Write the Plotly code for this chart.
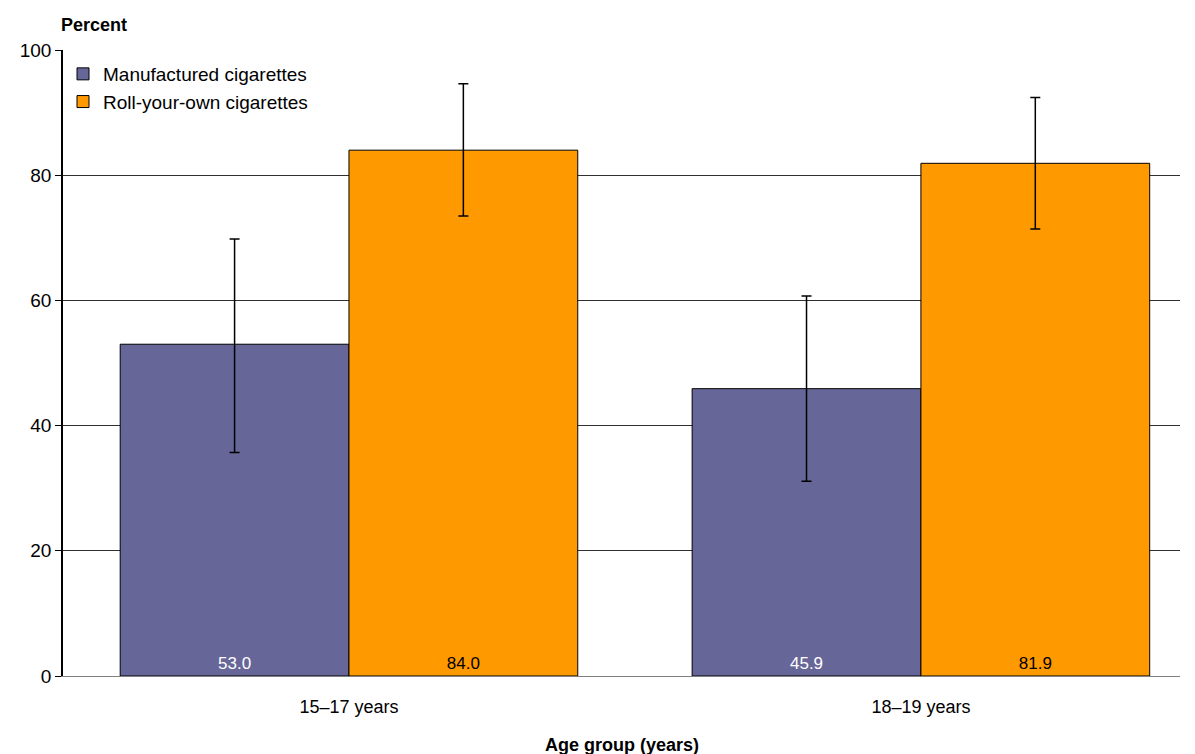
import plotly.graph_objects as go

categories = ["15–17 years", "18–19 years"]
manufactured = [53.0, 45.9]
manufactured_hi = [69.8, 60.7]
manufactured_lo = [35.7, 31.1]
ryo = [84.0, 81.9]
ryo_hi = [94.6, 92.4]
ryo_lo = [73.5, 71.4]

def errs(vals, hi, lo):
    return [h - v for v, h in zip(vals, hi)], [v - l for v, l in zip(vals, lo)]

m_up, m_dn = errs(manufactured, manufactured_hi, manufactured_lo)
r_up, r_dn = errs(ryo, ryo_hi, ryo_lo)

FONT = "Liberation Sans, Arial, sans-serif"

fig = go.Figure()
fig.add_trace(go.Bar(
    name="Manufactured cigarettes", x=categories, y=manufactured,
    marker=dict(color="#666699", line=dict(color="black", width=1)),
    error_y=dict(type="data", symmetric=False, array=m_up, arrayminus=m_dn,
                 color="black", thickness=1.5, width=5),
    text=[f"{v:.1f}" for v in manufactured], textposition="inside",
    insidetextanchor="start", textangle=0,
    textfont=dict(color="white", size=17, family=FONT),
))
fig.add_trace(go.Bar(
    name="Roll-your-own cigarettes", x=categories, y=ryo,
    marker=dict(color="#FF9900", line=dict(color="black", width=1)),
    error_y=dict(type="data", symmetric=False, array=r_up, arrayminus=r_dn,
                 color="black", thickness=1.5, width=5),
    text=[f"{v:.1f}" for v in ryo], textposition="inside",
    insidetextanchor="start", textangle=0,
    textfont=dict(color="black", size=17, family=FONT),
))

fig.update_layout(
    width=1187, height=746,
    margin=dict(l=51, r=15, t=42, b=78),
    paper_bgcolor="white", plot_bgcolor="white",
    barmode="group", bargap=0.2, bargroupgap=0,
    font=dict(family=FONT, size=18, color="black"),
    showlegend=True,
    legend=dict(x=0.0, y=0.992, xanchor="left", yanchor="top",
                font=dict(size=19, family=FONT), bgcolor="rgba(0,0,0,0)",
                traceorder="normal", itemwidth=30, tracegroupgap=0),
    xaxis=dict(range=[-0.5, 1.453], showgrid=False, showline=True,
               linecolor="#808080", linewidth=1, ticks="",
               ticklabelstandoff=14, automargin=False,
               tickfont=dict(size=18)),
    yaxis=dict(range=[0, 100], tickvals=[0, 20, 40, 60, 80, 100],
               showgrid=True, gridcolor="#303030", gridwidth=1,
               showline=True, linecolor="black", linewidth=1.5,
               ticks="outside", ticklen=6, tickcolor="black",
               tickfont=dict(size=19), zeroline=False),
    annotations=[
        dict(text="<b>Percent</b>", x=0, y=1.0, xref="paper", yref="paper",
             xanchor="left", yanchor="bottom", yshift=13, xshift=-4,
             showarrow=False, font=dict(size=18)),
        dict(text="<b>Age group (years)</b>", x=0.5, y=0, xref="paper", yref="paper",
             xanchor="center", yanchor="middle", yshift=-69,
             showarrow=False, font=dict(size=18)),
    ],
)
fig.write_html("out.html")
